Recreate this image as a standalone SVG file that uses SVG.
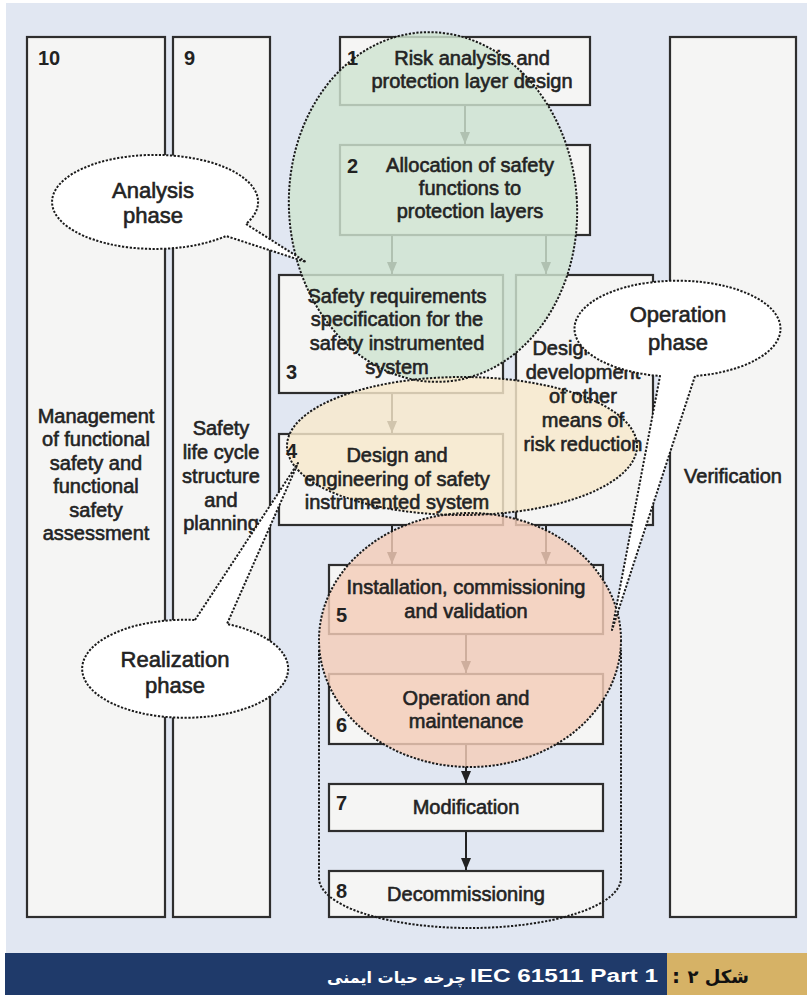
<svg xmlns="http://www.w3.org/2000/svg" width="807" height="995" viewBox="0 0 807 995">
<defs>
<style>
.box{fill:#f5f5f4;stroke:#2e2e2e;stroke-width:2.2}
.t{font-family:"Liberation Sans",Arial,sans-serif;font-size:20px;fill:#232323;stroke:#232323;stroke-width:0.6;text-anchor:middle}
.n{font-family:"Liberation Sans",Arial,sans-serif;font-size:20px;font-weight:bold;fill:#222}
.c{font-family:"Liberation Sans",Arial,sans-serif;font-size:22px;fill:#232323;stroke:#232323;stroke-width:0.6;text-anchor:middle}
.arr{stroke:#222;stroke-width:2;fill:none;marker-end:url(#ah)}
.dot{fill:none;stroke:#1a1a1a;stroke-width:2;stroke-dasharray:2.2 1.6}
.call{fill:#fff;stroke:#1a1a1a;stroke-width:2;stroke-dasharray:2.2 1.6;stroke-linejoin:round}
</style>
<marker id="ah" viewBox="0 0 12 10" refX="12" refY="5" markerWidth="12" markerHeight="10" markerUnits="userSpaceOnUse" orient="auto">
<path d="M0,0 L12,5 L0,10 z" fill="#222"/>
</marker>
</defs>
<rect x="0" y="0" width="807" height="995" fill="#ffffff"/>
<rect x="6" y="3" width="801" height="950" fill="#e1e7f2"/>

<g id="node10"><rect class="box" x="27" y="37" width="138" height="880"/></g>
<g id="node9"><rect class="box" x="173" y="37" width="97" height="880"/></g>
<g id="node1"><rect class="box" x="340" y="37" width="250" height="68"/></g>
<g id="node2"><rect class="box" x="340" y="145" width="250" height="90"/></g>
<g id="verification"><rect class="box" x="670" y="37" width="126" height="880"/></g>
<g id="node3"><rect class="box" x="279" y="275" width="224" height="118"/></g>
<g id="nodeOther"><rect class="box" x="516" y="275" width="137" height="250"/></g>
<g id="node4"><rect class="box" x="279" y="434" width="224" height="91"/></g>
<g id="node5"><rect class="box" x="329" y="565" width="274" height="69"/></g>
<g id="node6"><rect class="box" x="329" y="674" width="274" height="70"/></g>
<g id="node7"><rect class="box" x="329" y="784" width="274" height="47"/></g>
<g id="node8"><rect class="box" x="329" y="871" width="274" height="46"/></g>

<g id="connectors">
<line class="arr" x1="465" y1="106" x2="465" y2="144"/>
<line class="arr" x1="392" y1="236" x2="392" y2="274"/>
<line class="arr" x1="546" y1="236" x2="546" y2="274"/>
<line class="arr" x1="392" y1="394" x2="392" y2="433"/>
<line class="arr" x1="392" y1="526" x2="392" y2="564"/>
<line class="arr" x1="546" y1="526" x2="546" y2="564"/>
<line class="arr" x1="466" y1="635" x2="466" y2="673"/>
<line class="arr" x1="466" y1="745" x2="466" y2="783"/>
<line class="arr" x1="466" y1="832" x2="466" y2="870"/>
</g>

<g id="phase-fills">
<ellipse cx="433" cy="207" rx="144" ry="175" transform="rotate(-4 433 207)" fill="#cfe4d1" fill-opacity="0.82"/>
<ellipse cx="462" cy="446" rx="175" ry="69" fill="#f8e9cc" fill-opacity="0.82"/>
<ellipse cx="470" cy="640" rx="151" ry="127" fill="#f4cdb8" fill-opacity="0.82"/>
</g>

<g id="labels">
<text class="n" x="38" y="65">10</text>
<text class="t" x="96" y="423">Management</text>
<text class="t" x="96" y="446">of functional</text>
<text class="t" x="96" y="470">safety and</text>
<text class="t" x="96" y="493">functional</text>
<text class="t" x="96" y="517">safety</text>
<text class="t" x="96" y="540">assessment</text>
<text class="n" x="184" y="65">9</text>
<text class="t" x="221" y="435">Safety</text>
<text class="t" x="221" y="459">life cycle</text>
<text class="t" x="221" y="483">structure</text>
<text class="t" x="221" y="507">and</text>
<text class="t" x="221" y="530">planning</text>
<text class="n" x="347" y="65">1</text>
<text class="t" x="472" y="65">Risk analysis and</text>
<text class="t" x="472" y="88">protection layer design</text>
<text class="n" x="347" y="173">2</text>
<text class="t" x="470" y="172">Allocation of safety</text>
<text class="t" x="470" y="195">functions to</text>
<text class="t" x="470" y="218">protection layers</text>
<text class="t" x="733" y="483">Verification</text>
<text class="t" x="397" y="303">Safety requirements</text>
<text class="t" x="397" y="326">specification for the</text>
<text class="t" x="397" y="350">safety instrumented</text>
<text class="t" x="397" y="374">system</text>
<text class="n" x="286" y="379">3</text>
<text class="t" x="583" y="355">Design and</text>
<text class="t" x="583" y="379">development</text>
<text class="t" x="583" y="403">of other</text>
<text class="t" x="583" y="427">means of</text>
<text class="t" x="583" y="451">risk reduction</text>
<text class="n" x="286" y="458">4</text>
<text class="t" x="397" y="462">Design and</text>
<text class="t" x="397" y="486">engineering of safety</text>
<text class="t" x="397" y="509">instrumented system</text>
<text class="t" x="466" y="594">Installation, commissioning</text>
<text class="t" x="466" y="618">and validation</text>
<text class="n" x="336" y="622">5</text>
<text class="t" x="466" y="705">Operation and</text>
<text class="t" x="466" y="728">maintenance</text>
<text class="n" x="336" y="732">6</text>
<text class="n" x="336" y="810">7</text>
<text class="t" x="466" y="814">Modification</text>
<text class="n" x="336" y="898">8</text>
<text class="t" x="466" y="901">Decommissioning</text>
</g>

<g id="phase-outlines">
<ellipse class="dot" cx="433" cy="207" rx="144" ry="175" transform="rotate(-4 433 207)"/>
<ellipse class="dot" cx="462" cy="446" rx="175" ry="69"/>
<ellipse class="dot" cx="470" cy="640" rx="151" ry="127"/>
<path class="dot" d="M319,650 V878 A151,50 0 0 0 621,878 V650"/>
</g>

<g id="analysis-phase">
<path class="call" d="M246,224 L306,262 L226,236 A103,47 0 1 1 246,224 Z"/>
<text class="c" x="153" y="198">Analysis</text>
<text class="c" x="153" y="223">phase</text>
</g>
<g id="realization-phase">
<path class="call" d="M195,620 L298,463 L227,624 A103,49 0 1 1 195,620 Z"/>
<text class="c" x="175" y="667">Realization</text>
<text class="c" x="175" y="693">phase</text>
</g>
<g id="operation-phase">
<path class="call" d="M695,376 L612,630 L660,376 A103,48 0 1 1 695,376 Z"/>
<text class="c" x="678" y="322">Operation</text>
<text class="c" x="678" y="350">phase</text>
</g>

<g id="caption">
<rect x="5" y="953" width="662" height="42" fill="#1f3a6a"/>
<rect x="667" y="953" width="140" height="42" fill="#d6b266"/>
<text x="749" y="983" font-family="'DejaVu Sans',sans-serif" font-size="18" font-weight="bold" fill="#111" text-anchor="end">شکل ۲</text>
<text x="672" y="983" font-family="'DejaVu Sans',sans-serif" font-size="20" font-weight="bold" fill="#111">:</text>
<text x="470" y="982" font-family="'Liberation Sans',Arial,sans-serif" font-size="18" font-weight="bold" fill="#ffffff" textLength="188" lengthAdjust="spacingAndGlyphs">IEC 61511 Part 1</text>
<text x="466" y="983" font-family="'DejaVu Sans',sans-serif" font-size="16" font-weight="bold" fill="#ffffff" text-anchor="end">چرخه حیات ایمنی</text>
</g>
</svg>
